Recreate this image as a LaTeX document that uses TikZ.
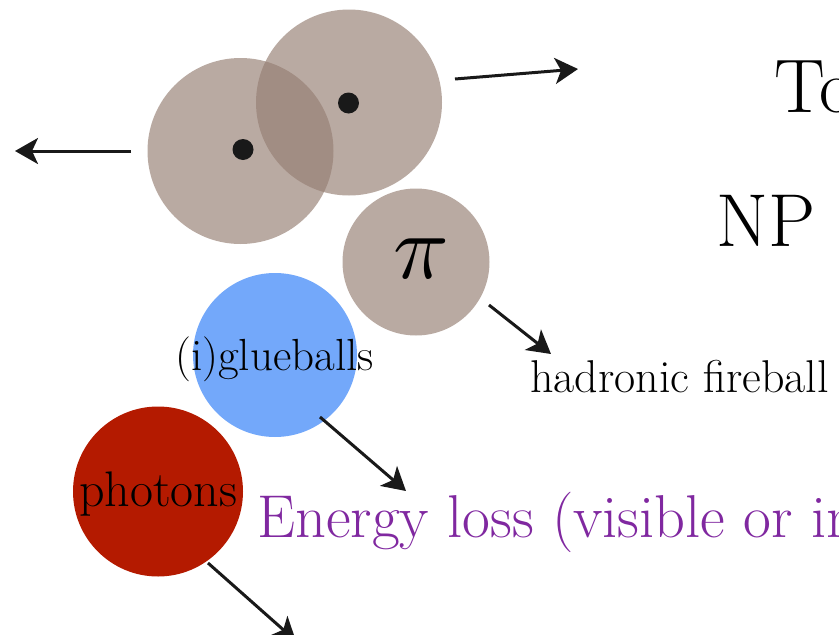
\documentclass[tikz,border=0pt]{standalone}
\usepackage{fontspec}
\usetikzlibrary{arrows.meta}
\definecolor{nucl}{RGB}{149,126,114}
\definecolor{glue}{RGB}{115,168,250}
\definecolor{phot}{RGB}{180,26,0}
\definecolor{eloss}{RGB}{128,40,160}
\tikzset{
  ball/.style={circle, draw=none, inner sep=0pt, minimum size=#1},
  nucleus/.style={ball=#1, fill=nucl, fill opacity=0.66},
  dotmark/.style={circle, fill=black!90, inner sep=0pt, minimum size=21pt},
  flow/.style={line width=3pt, draw=black!90, -{Stealth[length=23pt,width=26pt,inset=6pt]}},
  lbl/.style={inner sep=0pt, anchor=base west, text=black},
}
\begin{document}
\begin{tikzpicture}[x=1pt,y=-1pt]
\useasboundingbox (0,0) rectangle (839,635);
\clip (0,0) rectangle (839,635);
% nuclei
\node[nucleus=186pt] (nA) at (240.5,151) {};
\node[nucleus=186pt] (nB) at (349,102.5) {};
\node[dotmark] (dA) at (243,149.5) {};
\node[dotmark] (dB) at (348.5,103) {};
% pion
\node[ball=147pt, fill=nucl, fill opacity=0.66] (pi) at (416,262) {};
\node[inner sep=0pt] (pisym) at (421,258.5) {\scalebox{9.2}{$\pi$}};
% glueballs
\node[ball=164pt, fill=glue] (gb) at (275,355) {};
% photons
\node[ball=170pt, fill=phot] (ph) at (158,491.5) {};
% labels
\node[lbl, font=\fontsize{76}{80}\selectfont] (to) at (774,112) {To};
\node[lbl, font=\fontsize{75}{80}\selectfont] (np) at (716,246) {NP};
\node[lbl, font=\fontsize{46}{50}\selectfont] (hf) at (530,392) {hadronic fireball};
\node[lbl, font=\fontsize{45}{50}\selectfont] (gl) at (175,370) {(i)glueballs};
\node[lbl, font=\fontsize{50}{50}\selectfont] (pt) at (79,506) {photons};
\node[lbl, text=eloss, font=\fontsize{60.5}{62}\selectfont] (el) at (257,537) {Energy loss (visible or invisible)};
% arrow ends
\coordinate (lA) at (131,151);
\coordinate (lB) at (15,151);
\coordinate (rA) at (455,79);
\coordinate (rB) at (578,69);
\coordinate (pA) at (489,305);
\coordinate (pB) at (551,354);
\coordinate (gA) at (320,417);
\coordinate (gB) at (406,491);
\coordinate (hA) at (208,563);
\coordinate (hB) at (296,641);
\draw[flow] (lA) -- (lB);
\draw[flow] (rA) -- (rB);
\draw[flow] (pA) -- (pB);
\draw[flow] (gA) -- (gB);
\draw[flow] (hA) -- (hB);
\end{tikzpicture}
\end{document}
